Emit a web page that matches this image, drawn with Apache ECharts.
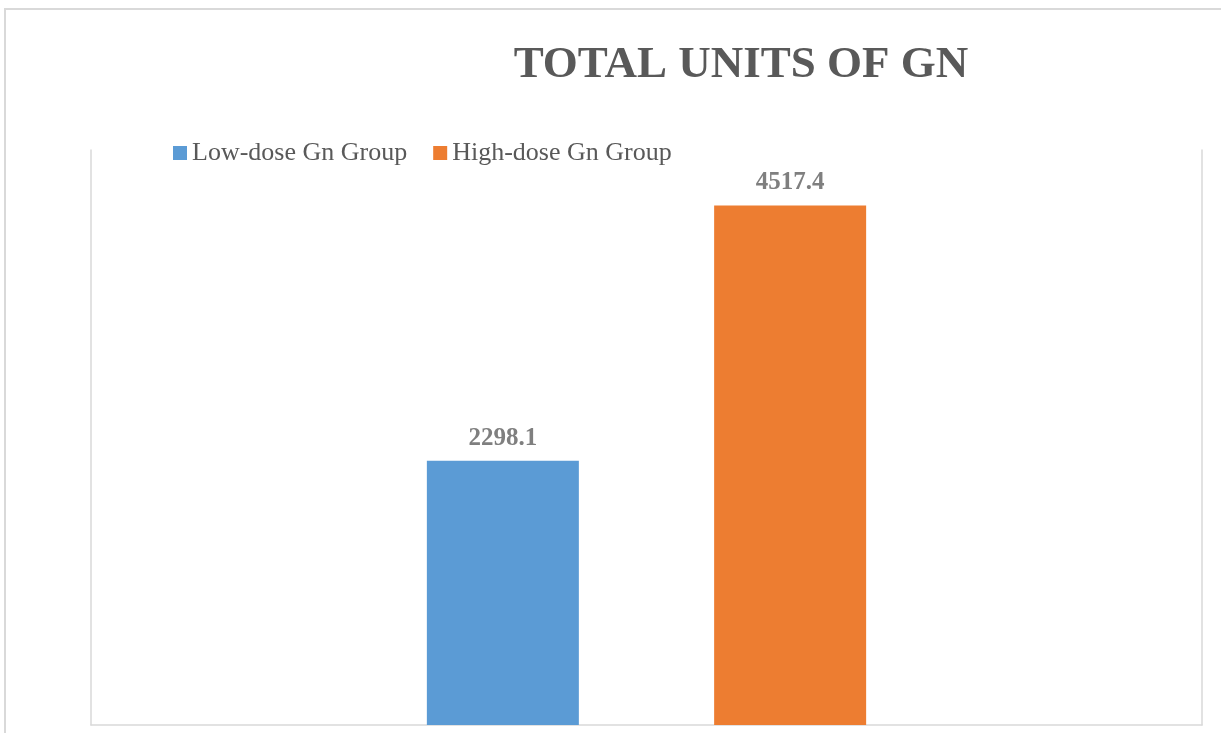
<!DOCTYPE html>
<html>
<head>
<meta charset="utf-8">
<script src="https://cdn.jsdelivr.net/npm/echarts@6/dist/echarts.min.js"></script>
<style>
html,body{margin:0;padding:0;background:#fff;}
#chart{width:1221px;height:733px;}
</style>
</head>
<body>
<div id="chart"></div>
<script>
const titleText = 'TOTAL UNITS OF GN';
const categories = ['Total units of Gn'];
const seriesNames = ['Low-dose Gn Group', 'High-dose Gn Group'];
const lowDose = [2298.1];
const highDose = [4517.4];
const yMin = 0;
const yMax = 5000;

const chart = echarts.init(document.getElementById('chart'));
const serif = '"Liberation Serif", "Times New Roman", serif';
const axisLineStyle = { show: true, lineStyle: { color: '#d9d9d9', width: 1.5 } };

chart.setOption({
  backgroundColor: '#ffffff',
  animation: false,
  graphic: [{
    type: 'rect',
    shape: { x: 5, y: 9, width: 1400, height: 900 },
    style: { fill: 'none', stroke: '#d9d9d9', lineWidth: 2 },
    silent: true, z: -1
  }],
  title: {
    text: titleText,
    left: 736,
    textAlign: 'center',
    top: 38,
    textStyle: { fontFamily: serif, fontSize: 45, fontWeight: 'bold', color: '#595959' }
  },
  legend: {
    left: 173,
    top: 140,
    padding: 0,
    itemWidth: 14,
    itemHeight: 14,
    itemGap: 26,
    icon: 'rect',
    textStyle: { fontFamily: serif, fontSize: 26, color: '#595959' },
    data: seriesNames
  },
  grid: { left: 91, right: 19, top: 150, bottom: 8, containLabel: false },
  xAxis: {
    type: 'category',
    data: categories,
    axisLine: axisLineStyle,
    axisTick: { show: false },
    axisLabel: { show: false }
  },
  yAxis: [{
    type: 'value', min: yMin, max: yMax, position: 'left',
    axisLine: axisLineStyle, axisTick: { show: false }, axisLabel: { show: false }, splitLine: { show: false }
  }, {
    type: 'value', min: yMin, max: yMax, position: 'right',
    axisLine: axisLineStyle, axisTick: { show: false }, axisLabel: { show: false }, splitLine: { show: false }
  }],
  series: [{
    name: seriesNames[0],
    type: 'bar',
    data: lowDose,
    barWidth: 152,
    barGap: '89%',
    itemStyle: { color: '#5b9bd5' },
    label: { show: true, position: 'top', distance: 10, fontFamily: serif, fontSize: 25, fontWeight: 'bold', color: '#7f7f7f' }
  }, {
    name: seriesNames[1],
    type: 'bar',
    data: highDose,
    barWidth: 152,
    barGap: '89%',
    itemStyle: { color: '#ed7d31' },
    label: { show: true, position: 'top', distance: 10, fontFamily: serif, fontSize: 25, fontWeight: 'bold', color: '#7f7f7f' }
  }]
});
</script>
</body>
</html>
